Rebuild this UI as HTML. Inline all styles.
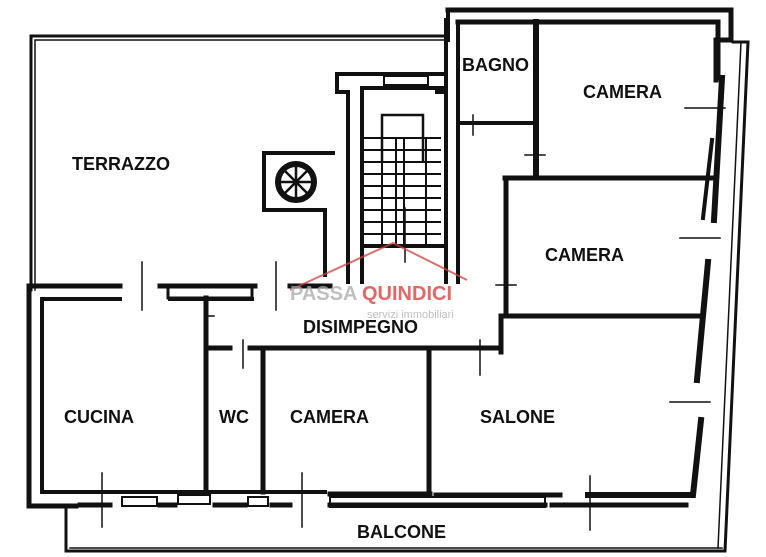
<!DOCTYPE html>
<html><head><meta charset="utf-8"><style>
html,body{margin:0;padding:0;background:#fff;width:766px;height:557px;overflow:hidden}
svg{display:block}
text{font-family:"Liberation Sans",sans-serif;font-weight:bold;fill:#111}
</style></head><body>
<svg width="766" height="557" viewBox="0 0 766 557" xmlns="http://www.w3.org/2000/svg">
<g fill="none" stroke="#111" stroke-linecap="square">
<!-- terrazzo thin outline -->
<path d="M31 290 V36 H446" stroke-width="3"/>
<path d="M35 290 V40 H446" stroke-width="1.5"/>
<!-- south block outer -->
<path d="M29 287 V506 H76" stroke-width="5"/>
<path d="M42 300 V492 H206" stroke-width="4"/>
<!-- top wall of south block -->
<path d="M29 286 H120 M160 286 H255 M290 286 H330" stroke-width="5"/>
<path d="M42 299 H120 M170 299 H252" stroke-width="4"/>
<rect x="168" y="287" width="84" height="11" stroke-width="3"/>
<!-- vent box -->
<path d="M333 153 H264 V210 H325 V275" stroke-width="4"/>
<circle cx="296" cy="182" r="18" stroke-width="6"/>
<path d="M296 166 V198 M280 182 H312 M285 171 L307 193 M307 171 L285 193" stroke-width="2.5"/>
<!-- stair shaft -->
<path d="M348 282 V92 H337 V74 H446 V92 H437" stroke-width="4"/>
<path d="M362 282 V88 H446" stroke-width="4"/>
<rect x="384" y="76" width="44" height="9" stroke-width="2"/>
<path d="M446 20 V282" stroke-width="4"/>
<path d="M458 22 V282" stroke-width="4"/>
<path d="M382 160 V115 H423 V160" stroke-width="2.5"/>
<g stroke-width="2">
<path d="M365 138 H440 M365 150 H440 M365 162 H440 M365 174 H440 M365 186 H440 M365 198 H440 M365 210 H440 M365 222 H440 M365 234 H440"/>
<path d="M396 138 V245 M404 138 V245 M382 138 V245 M426 138 V245"/>
</g>
<path d="M362 246 H446" stroke-width="4"/>
<!-- top right block -->
<path d="M448 10 H731 V40 H716 V80" stroke-width="5"/>
<path d="M448 10 V40" stroke-width="4"/>
<path d="M458 22 H718 V78" stroke-width="5"/>
<!-- right outer walls going down -->
<path d="M722 78 L714 220" stroke-width="6"/>
<path d="M712 140 L703 218" stroke-width="4"/>
<path d="M708 262 L697 380" stroke-width="6"/>
<path d="M701 420 L693 495 H588" stroke-width="6"/>
<path d="M560 495 H436 M430 494 H330" stroke-width="5"/>
<path d="M686 505 H552 M545 505 H330" stroke-width="5"/>
<path d="M330 497 H545 V507 H330 Z" stroke-width="2"/>
<!-- balcony and right thin lines -->
<path d="M66 506 V551 H725 L748 42 H733" stroke-width="3"/>
<path d="M70 548 H722" stroke-width="1.5"/>
<path d="M741 42 L718 548" stroke-width="1.5"/>
<!-- bottom window segments -->
<path d="M80 505 H110 M160 505 H175 M215 505 H245 M272 505 H290" stroke-width="5"/>
<rect x="122" y="497" width="35" height="9" stroke-width="2"/>
<rect x="178" y="495" width="32" height="9" stroke-width="2"/>
<rect x="248" y="497" width="20" height="9" stroke-width="2"/>
<path d="M206 492 H325" stroke-width="4"/>
<!-- interior walls -->
<path d="M536 22 V175" stroke-width="6"/>
<path d="M458 123 H536" stroke-width="4"/>
<path d="M505 178 H712" stroke-width="5"/>
<path d="M506 178 V315" stroke-width="5"/>
<path d="M506 316 H700" stroke-width="5"/>
<path d="M501 316 V352" stroke-width="5"/>
<path d="M206 348 H230 M250 348 H500" stroke-width="5"/>
<path d="M206 298 V492" stroke-width="5"/>
<path d="M263 352 V492" stroke-width="5"/>
<path d="M429 352 V492" stroke-width="5"/>
<!-- door / window ticks -->
<g stroke-width="1.5">
<path d="M142 262 V310 M276 262 V310 M97 286 H120"/>
<path d="M102 473 V527 M206 316 H214 M243 340 V368 M210 348 H218 M302 473 V527"/>
<path d="M480 340 V375 M590 476 V530 M405 208 V262 M473 115 V135 M525 155 H545 M685 108 H725 M680 238 H720 M670 402 H710 M496 285 H516"/>
</g>
</g>
<!-- watermark -->
<g opacity="0.75">
<path d="M290 290 L393 243 L467 280" fill="none" stroke="#d04040" stroke-width="2"/>
<text x="290" y="300" font-size="20" fill="#999" style="fill:#aaa">PASSA</text>
<text x="362" y="300" font-size="20" style="fill:#d33">QUINDICI</text>
<text x="367" y="318" font-size="11" style="fill:#aaa;font-weight:normal">servizi immobiliari</text>
</g>
<text x="72" y="170" font-size="18">TERRAZZO</text>
<text x="462" y="71" font-size="18">BAGNO</text>
<text x="583" y="98" font-size="18">CAMERA</text>
<text x="545" y="261" font-size="18">CAMERA</text>
<text x="303" y="333" font-size="18">DISIMPEGNO</text>
<text x="64" y="423" font-size="18">CUCINA</text>
<text x="219" y="423" font-size="18">WC</text>
<text x="290" y="423" font-size="18">CAMERA</text>
<text x="480" y="423" font-size="18">SALONE</text>
<text x="357" y="538" font-size="18">BALCONE</text>
</svg>
</body></html>
